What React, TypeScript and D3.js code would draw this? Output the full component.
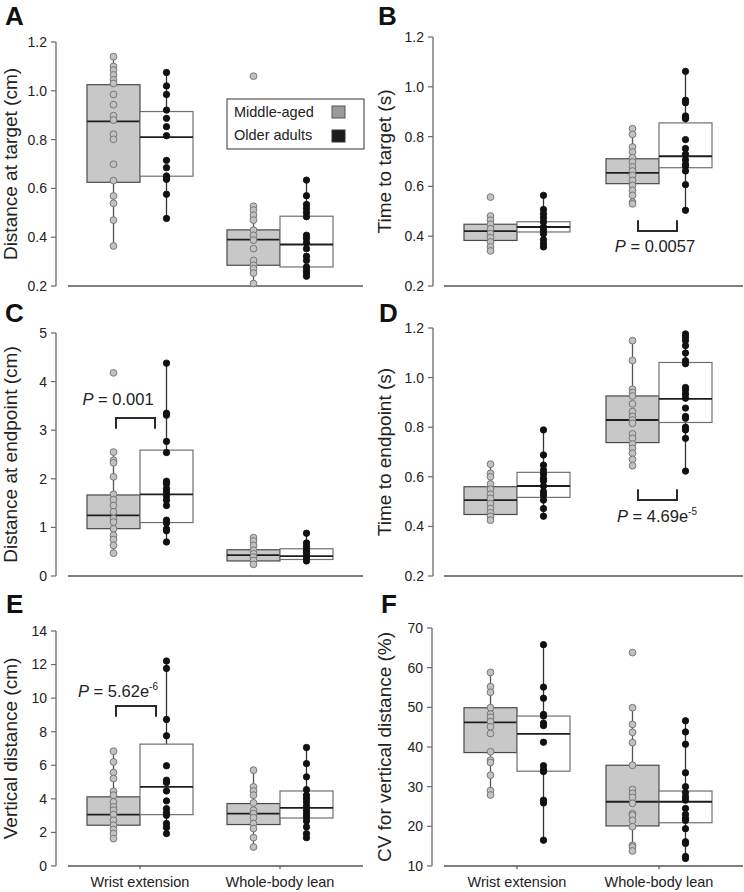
import React from "react";
import * as d3 from "d3";

const categories = ["Wrist extension", "Whole-body lean"];
const groupNames = ["Middle-aged", "Older adults"];

// Box stats per group: [q1, median, q3, whiskerLow, whiskerHigh]
// order: middle-wrist, older-wrist, middle-whole, older-whole

// Panel A
const aTitle = "Distance at target (cm)";
const aTicks = [0.2, 0.4, 0.6, 0.8, 1.0, 1.2];
const aBoxes = [
  [0.625, 0.875, 1.025, 0.364, 1.14],
  [0.65, 0.81, 0.915, 0.477, 1.075],
  [0.285, 0.39, 0.43, 0.21, 0.527],
  [0.278, 0.37, 0.486, 0.24, 0.634],
];
const aPoints = [
  [1.14, 1.1, 1.085, 1.065, 1.045, 1.03, 0.985, 0.943, 0.898, 0.88, 0.822, 0.801, 0.699, 0.632, 0.569, 0.539, 0.47, 0.364],
  [1.075, 1.02, 0.985, 0.921, 0.887, 0.853, 0.816, 0.715, 0.685, 0.651, 0.643, 0.637, 0.576, 0.477],
  [1.06, 0.527, 0.511, 0.49, 0.47, 0.429, 0.408, 0.388, 0.353, 0.305, 0.285, 0.271, 0.253, 0.21],
  [0.634, 0.57, 0.534, 0.518, 0.501, 0.484, 0.408, 0.395, 0.377, 0.353, 0.322, 0.305, 0.278, 0.264, 0.253, 0.24],
];

// Panel B
const bTitle = "Time to target (s)";
const bTicks = [0.2, 0.4, 0.6, 0.8, 1.0, 1.2];
const bBoxes = [
  [0.383, 0.42, 0.448, 0.341, 0.481],
  [0.417, 0.437, 0.458, 0.357, 0.564],
  [0.611, 0.654, 0.711, 0.53, 0.832],
  [0.675, 0.721, 0.855, 0.504, 1.062],
];
const bPoints = [
  [0.557, 0.481, 0.464, 0.448, 0.43, 0.41, 0.394, 0.377, 0.357, 0.341],
  [0.564, 0.507, 0.49, 0.474, 0.457, 0.437, 0.424, 0.41, 0.386, 0.37, 0.357],
  [0.832, 0.809, 0.758, 0.738, 0.715, 0.698, 0.678, 0.662, 0.644, 0.624, 0.604, 0.584, 0.564, 0.537, 0.53],
  [1.062, 0.946, 0.936, 0.883, 0.876, 0.872, 0.788, 0.752, 0.729, 0.707, 0.689, 0.681, 0.662, 0.607, 0.504],
];

// Panel C
const cTitle = "Distance at endpoint (cm)";
const cTicks = [0, 1, 2, 3, 4, 5];
const cBoxes = [
  [0.974, 1.248, 1.667, 0.47, 2.55],
  [1.1, 1.68, 2.59, 0.7, 4.38],
  [0.31, 0.43, 0.54, 0.24, 0.79],
  [0.34, 0.41, 0.56, 0.31, 0.88],
];
const cPoints = [
  [4.18, 2.55, 2.38, 2.33, 2.04, 1.68, 1.57, 1.45, 1.32, 1.18, 1.11, 0.97, 0.84, 0.75, 0.63, 0.47],
  [4.38, 3.35, 3.31, 2.77, 2.54, 1.95, 1.9, 1.8, 1.73, 1.65, 1.56, 1.45, 1.15, 1.09, 0.97, 0.93, 0.7],
  [0.79, 0.72, 0.63, 0.53, 0.46, 0.39, 0.32, 0.24],
  [0.88, 0.68, 0.61, 0.54, 0.49, 0.43, 0.37, 0.31],
];

// Panel D
const dTitle = "Time to endpoint (s)";
const dTicks = [0.2, 0.4, 0.6, 0.8, 1.0, 1.2];
const dBoxes = [
  [0.448, 0.506, 0.56, 0.425, 0.651],
  [0.517, 0.563, 0.618, 0.441, 0.789],
  [0.738, 0.829, 0.926, 0.645, 1.149],
  [0.819, 0.914, 1.061, 0.623, 1.176],
];
const dPoints = [
  [0.651, 0.614, 0.6, 0.571, 0.55, 0.53, 0.513, 0.492, 0.472, 0.455, 0.441, 0.425],
  [0.789, 0.688, 0.647, 0.627, 0.611, 0.594, 0.584, 0.563, 0.54, 0.526, 0.506, 0.472, 0.441],
  [1.149, 1.069, 0.953, 0.94, 0.926, 0.894, 0.863, 0.843, 0.829, 0.816, 0.773, 0.755, 0.732, 0.715, 0.695, 0.67, 0.645],
  [1.176, 1.164, 1.15, 1.129, 1.099, 1.068, 1.056, 0.96, 0.951, 0.934, 0.917, 0.877, 0.843, 0.836, 0.8, 0.789, 0.755, 0.623],
];

// Panel E
const eTitle = "Vertical distance (cm)";
const eTicks = [0, 2, 4, 6, 8, 10, 12, 14];
const eBoxes = [
  [2.43, 3.06, 4.12, 1.63, 6.84],
  [3.06, 4.71, 7.26, 1.93, 12.21],
  [2.47, 3.12, 3.72, 1.13, 5.71],
  [2.86, 3.46, 4.47, 1.69, 7.06],
];
const ePoints = [
  [6.84, 6.2, 5.57, 5.21, 4.45, 4.22, 3.82, 3.52, 3.32, 3.06, 2.72, 2.43, 2.17, 1.93, 1.63],
  [12.21, 11.77, 8.73, 7.76, 5.97, 5.11, 4.97, 4.47, 3.88, 3.42, 3.18, 3.02, 2.53, 2.29, 1.93],
  [5.71, 4.71, 4.47, 4.22, 3.76, 3.32, 3.12, 2.88, 2.53, 2.23, 1.69, 1.13],
  [7.06, 6.1, 5.31, 4.55, 4.22, 4.02, 3.82, 3.56, 3.32, 3.12, 2.92, 2.68, 2.33, 1.93, 1.69],
];

// Panel F
const fTitle = "CV for vertical distance (%)";
const fTicks = [10, 20, 30, 40, 50, 60, 70];
const fBoxes = [
  [38.6, 46.2, 49.9, 27.9, 58.8],
  [33.9, 43.3, 47.8, 16.5, 65.8],
  [20.1, 26.2, 35.4, 13.8, 49.9],
  [20.9, 26.2, 28.9, 11.9, 46.6],
];
const fPoints = [
  [58.8, 55.2, 53.8, 49.9, 48.3, 47.5, 46.4, 45.1, 43.4, 38.8, 36.7, 36.1, 32.9, 29.0, 27.9],
  [65.8, 55.1, 52.3, 48.2, 47.8, 46.0, 45.4, 41.2, 35.3, 34.2, 33.8, 26.6, 25.9, 16.5],
  [63.8, 49.9, 45.7, 43.7, 41.1, 35.4, 29.3, 28.3, 27.3, 25.8, 23.2, 22.8, 21.5, 19.9, 15.2, 14.8, 13.8],
  [46.6, 43.8, 40.7, 33.5, 30.0, 28.5, 27.4, 26.6, 24.5, 23.0, 22.0, 21.5, 19.4, 16.1, 15.7, 12.4, 11.9],
];

// Significance annotations: [category index, bracket value A, bracket value B, text value]
const bSig = { cat: 1, from: 0.421, to: 0.464, textAt: 0.337, p: "0.0057", exp: "" };
const cSig = { cat: 0, from: 3.25, to: 3.03, textAt: 3.51, p: "0.001", exp: "" };
const dSig = { cat: 1, from: 0.506, to: 0.55, textAt: 0.418, p: "4.69e", exp: "-5" };
const eSig = { cat: 0, from: 9.53, to: 8.89, textAt: 10.08, p: "5.62e", exp: "-6" };

const FONT = "'Liberation Sans', Arial, Helvetica, sans-serif";

type Layout = {
  letter: string; lx: number; ly: number;
  axisX: number; yTop: number; yBot: number;
  xStart: number; xEnd: number; c0: number; c1: number;
  titleX: number; xLabels: boolean; textDx: number; bx0: number; bx1: number;
};

const panels = [
  { title: aTitle, ticks: aTicks, boxes: aBoxes, points: aPoints, sig: null as any, fmt: ".1f",
    L: { letter: "A", lx: 5, ly: 25, axisX: 56, yTop: 42, yBot: 286, xStart: 68, xEnd: 363, c0: 140, c1: 280, titleX: 17, xLabels: false, textDx: -22, bx0: -24, bx1: 15 } as Layout },
  { title: bTitle, ticks: bTicks, boxes: bBoxes, points: bPoints, sig: bSig, fmt: ".1f",
    L: { letter: "B", lx: 378, ly: 25, axisX: 433, yTop: 37, yBot: 286, xStart: 444, xEnd: 743, c0: 517, c1: 659, titleX: 391, xLabels: false, textDx: -4, bx0: -21, bx1: 18 } as Layout },
  { title: cTitle, ticks: cTicks, boxes: cBoxes, points: cPoints, sig: cSig, fmt: "d",
    L: { letter: "C", lx: 5, ly: 322, axisX: 56, yTop: 333, yBot: 576, xStart: 68, xEnd: 363, c0: 140, c1: 280, titleX: 17, xLabels: false, textDx: -22, bx0: -24, bx1: 15 } as Layout },
  { title: dTitle, ticks: dTicks, boxes: dBoxes, points: dPoints, sig: dSig, fmt: ".1f",
    L: { letter: "D", lx: 379, ly: 322, axisX: 433, yTop: 328, yBot: 576, xStart: 444, xEnd: 743, c0: 517, c1: 659, titleX: 391, xLabels: false, textDx: -2, bx0: -21, bx1: 18 } as Layout },
  { title: eTitle, ticks: eTicks, boxes: eBoxes, points: ePoints, sig: eSig, fmt: "d",
    L: { letter: "E", lx: 6, ly: 613, axisX: 56, yTop: 631, yBot: 866, xStart: 68, xEnd: 363, c0: 140, c1: 280, titleX: 17, xLabels: true, textDx: -22, bx0: -24, bx1: 16 } as Layout },
  { title: fTitle, ticks: fTicks, boxes: fBoxes, points: fPoints, sig: null as any, fmt: "d",
    L: { letter: "F", lx: 381, ly: 613, axisX: 432, yTop: 628, yBot: 866, xStart: 444, xEnd: 743, c0: 517, c1: 659, titleX: 391, xLabels: true, textDx: -22, bx0: -21, bx1: 18 } as Layout },
];

const BOX_W = 53;

function Panel({ p }: { p: (typeof panels)[number] }) {
  const L = p.L;
  const y = d3.scaleLinear().domain([p.ticks[0], p.ticks[p.ticks.length - 1]]).range([L.yBot, L.yTop]);
  const x = d3.scalePoint<string>().domain(categories).range([L.c0, L.c1]);
  const fmt = d3.format(p.fmt);
  const axisColor = "#6a6a6a";

  const groupsDraw = p.boxes.map((b, i) => {
    const cat = categories[Math.floor(i / 2)];
    const isOld = i % 2 === 1;
    const cx = x(cat)!;
    const x0 = isOld ? cx : cx - BOX_W;
    const dotX = x0 + BOX_W / 2;
    const [q1, med, q3, lo, hi] = b;
    return (
      <g key={i}>
        <line x1={dotX} x2={dotX} y1={y(lo)} y2={y(hi)} stroke={isOld ? "#333" : "#555"} strokeWidth={1.3} />
        <rect x={x0} y={y(q3)} width={BOX_W} height={y(q1) - y(q3)}
          fill={isOld ? "#ffffff" : "#c8c8c8"} stroke={isOld ? "#707070" : "#4a4a4a"} strokeWidth={1.2} />
        <line x1={x0} x2={x0 + BOX_W} y1={y(med)} y2={y(med)} stroke="#1e1e1e" strokeWidth={1.8} />
        {p.points[i].map((v, j) => (
          <circle key={j} cx={dotX} cy={y(v)} r={isOld ? 3.2 : 3.4}
            fill={isOld ? "#111" : "#c2c2c2"} stroke={isOld ? "#111" : "#6e6e6e"} strokeWidth={0.9} />
        ))}
      </g>
    );
  });

  let sig = null;
  if (p.sig) {
    const s = p.sig;
    const cx = x(categories[s.cat])!;
    const xa = cx + L.bx0;
    const xb = cx + L.bx1;
    const yh = y(s.from);
    const yl = y(s.to);
    sig = (
      <g>
        <path d={`M${xa},${yl}L${xa},${yh}L${xb},${yh}L${xb},${yl}`} fill="none" stroke="#2a2a2a" strokeWidth={2} />
        <text x={cx + L.textDx} y={y(s.textAt)} textAnchor="middle" fontSize={16.5} fill="#222" fontFamily={FONT}>
          <tspan fontStyle="italic">P</tspan>
          <tspan> = {s.p}</tspan>
          {s.exp ? <tspan dy={-7} fontSize={10}>{s.exp}</tspan> : null}
        </text>
      </g>
    );
  }

  return (
    <g fontFamily={FONT}>
      <text x={L.lx} y={L.ly} fontSize={26} fontWeight="bold" fill="#111">{L.letter}</text>
      <line x1={L.axisX} x2={L.axisX} y1={L.yTop} y2={L.yBot} stroke={axisColor} strokeWidth={1.3} />
      {p.ticks.map((t) => (
        <g key={t}>
          <line x1={L.axisX - 5} x2={L.axisX} y1={y(t)} y2={y(t)} stroke={axisColor} strokeWidth={1.2} />
          <text x={L.axisX - 9} y={y(t)} dy="0.35em" textAnchor="end" fontSize={14} fill="#222">{fmt(t)}</text>
        </g>
      ))}
      <text transform={`translate(${L.titleX},${(L.yTop + L.yBot) / 2}) rotate(-90)`} textAnchor="middle" fontSize={19} fill="#222">
        {p.title}
      </text>
      <line x1={L.xStart} x2={L.xEnd} y1={L.yBot} y2={L.yBot} stroke="#555" strokeWidth={1.3} />
      {L.xLabels && categories.map((c) => (
        <g key={c}>
          <line x1={x(c)} x2={x(c)} y1={L.yBot} y2={L.yBot + 3} stroke="#555" strokeWidth={1.2} />
          <text x={x(c)} y={L.yBot + 21} textAnchor="middle" fontSize={14.5} fill="#222">{c}</text>
        </g>
      ))}
      {groupsDraw}
      {sig}
    </g>
  );
}

function Legend() {
  return (
    <g fontFamily={FONT}>
      <rect x={227} y={99} width={137} height={50} fill="#fff" stroke="#555" strokeWidth={1.2} />
      <text x={234} y={116.5} fontSize={14.5} fill="#222">{groupNames[0]}</text>
      <text x={234} y={140} fontSize={14.5} fill="#222">{groupNames[1]}</text>
      <rect x={332} y={106} width={13} height={12} fill="#9a9a9a" stroke="#555" strokeWidth={1} />
      <rect x={332} y={130} width={13} height={12} fill="#1c1c1c" stroke="#333" strokeWidth={1} />
    </g>
  );
}

export default function App() {
  return (
    <svg width={744} height={892} viewBox="0 0 744 892"
      style={{ position: "absolute", left: 0, top: 0, background: "#fff" }}>
      <rect x={0} y={0} width={744} height={892} fill="#fff" />
      {panels.map((p, i) => <Panel key={i} p={p} />)}
      <Legend />
    </svg>
  );
}
